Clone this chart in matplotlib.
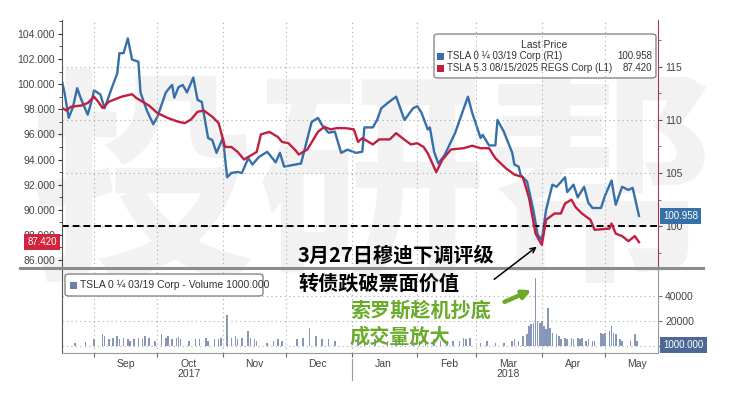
import matplotlib
matplotlib.use("Agg")
from datetime import datetime

import matplotlib.dates as mdates
import matplotlib.pyplot as plt
import matplotlib.transforms as mtransforms
import pandas as pd
from matplotlib.lines import Line2D
from matplotlib.patches import FancyArrowPatch, FancyBboxPatch, Rectangle
from matplotlib.ticker import FixedLocator, FuncFormatter, MultipleLocator

# TSLA 0 1/4 03/19 convertible (right axis, blue)
blue_dates = [
    "2017-08-17", "2017-08-18", "2017-08-20", "2017-08-22", "2017-08-24", "2017-08-26",
    "2017-08-29", "2017-08-31", "2017-09-01", "2017-09-04", "2017-09-06", "2017-09-09",
    "2017-09-12", "2017-09-13", "2017-09-15", "2017-09-17", "2017-09-19", "2017-09-22",
    "2017-09-23", "2017-09-26", "2017-09-29", "2017-10-01", "2017-10-05", "2017-10-07",
    "2017-10-08", "2017-10-09", "2017-10-11", "2017-10-13", "2017-10-15", "2017-10-18",
    "2017-10-20", "2017-10-22", "2017-10-25", "2017-10-27", "2017-10-29", "2017-11-01",
    "2017-11-03", "2017-11-05", "2017-11-08", "2017-11-10", "2017-11-13", "2017-11-15",
    "2017-11-18", "2017-11-22", "2017-11-26", "2017-11-28", "2017-11-30", "2017-12-08",
    "2017-12-13", "2017-12-16", "2017-12-18", "2017-12-21", "2017-12-24", "2017-12-27",
    "2017-12-30", "2018-01-03", "2018-01-06", "2018-01-07", "2018-01-11", "2018-01-13",
    "2018-01-15", "2018-01-18", "2018-01-22", "2018-01-24", "2018-01-26", "2018-01-30",
    "2018-02-01", "2018-02-03", "2018-02-06", "2018-02-07", "2018-02-09", "2018-02-11",
    "2018-02-14", "2018-02-19", "2018-02-22", "2018-02-25", "2018-02-27", "2018-03-01",
    "2018-03-03", "2018-03-04", "2018-03-07", "2018-03-10", "2018-03-11", "2018-03-14",
    "2018-03-18", "2018-03-19", "2018-03-21", "2018-03-22", "2018-03-25", "2018-03-28",
    "2018-03-30", "2018-04-01", "2018-04-03", "2018-04-06", "2018-04-08", "2018-04-12",
    "2018-04-13", "2018-04-16", "2018-04-18", "2018-04-21", "2018-04-23", "2018-04-25",
    "2018-04-29", "2018-05-01", "2018-05-04", "2018-05-06", "2018-05-09", "2018-05-12",
    "2018-05-14", "2018-05-17",
]
blue_px = [
    113.5, 112.6, 110.2, 111.2, 113.0, 111.9,
    110.5, 111.9, 112.8, 112.4, 111.1, 112.8,
    114.4, 116.3, 116.3, 117.7, 115.7, 115.5,
    112.6, 110.9, 109.6, 110.3, 112.6, 113.1,
    113.3, 112.1, 113.1, 113.3, 112.6, 114.0,
    111.9, 111.7, 108.3, 108.1, 106.9, 108.3,
    104.6, 105.0, 105.1, 105.0, 106.4, 105.8,
    106.5, 107.0, 106.0, 106.9, 105.6, 105.9,
    109.8, 110.2, 109.5, 108.8, 108.9, 106.9,
    107.2, 106.9, 107.0, 109.3, 109.3, 110.0,
    111.1, 111.6, 112.2, 111.1, 110.0, 111.1,
    111.3, 110.7, 109.1, 109.3, 107.0, 105.9,
    106.7, 108.8, 110.5, 112.2, 110.7, 109.5,
    108.3, 108.6, 107.6, 107.6, 110.0, 108.9,
    106.9, 105.8, 105.6, 104.8, 104.2, 101.5,
    99.2, 98.7, 101.5, 103.9, 103.7, 104.6,
    103.2, 103.9, 102.7, 103.7, 102.2, 101.7,
    101.7, 102.9, 104.3, 102.0, 103.7, 103.4,
    103.6, 100.958,
]

# TSLA 5.3 08/15/2025 REGS (left axis, red)
red_dates = [
    "2017-08-17", "2017-08-19", "2017-08-21", "2017-08-26", "2017-08-29", "2017-09-01",
    "2017-09-03", "2017-09-05", "2017-09-08", "2017-09-11", "2017-09-14", "2017-09-19",
    "2017-09-21", "2017-09-24", "2017-09-27", "2017-10-01", "2017-10-06", "2017-10-11",
    "2017-10-14", "2017-10-17", "2017-10-20", "2017-10-23", "2017-10-27", "2017-10-30",
    "2017-11-02", "2017-11-05", "2017-11-08", "2017-11-11", "2017-11-15", "2017-11-17",
    "2017-11-19", "2017-11-23", "2017-11-27", "2017-11-29", "2017-12-02", "2017-12-05",
    "2017-12-07", "2017-12-11", "2017-12-16", "2017-12-19", "2017-12-22", "2017-12-25",
    "2017-12-29", "2018-01-02", "2018-01-04", "2018-01-06", "2018-01-11", "2018-01-14",
    "2018-01-19", "2018-01-22", "2018-01-25", "2018-01-29", "2018-02-01", "2018-02-04",
    "2018-02-06", "2018-02-10", "2018-02-13", "2018-02-17", "2018-02-23", "2018-02-27",
    "2018-03-03", "2018-03-07", "2018-03-10", "2018-03-15", "2018-03-19", "2018-03-23",
    "2018-03-26", "2018-03-29", "2018-04-01", "2018-04-03", "2018-04-07", "2018-04-10",
    "2018-04-12", "2018-04-15", "2018-04-17", "2018-04-20", "2018-04-24", "2018-04-26",
    "2018-05-03", "2018-05-04", "2018-05-06", "2018-05-09", "2018-05-12", "2018-05-15",
    "2018-05-17",
]
red_px = [
    98.1, 97.9, 98.2, 98.3, 98.5, 99.0,
    98.6, 98.1, 98.6, 98.8, 99.0, 99.2,
    98.9, 98.6, 98.3, 97.7, 97.3, 97.0,
    96.9, 97.2, 97.8, 97.9, 97.4, 96.9,
    95.0, 95.0, 94.6, 94.0, 94.4, 94.6,
    96.0, 96.2, 95.8, 95.4, 95.3, 94.8,
    94.4, 94.8, 96.2, 96.6, 96.4, 96.5,
    96.5, 96.4, 95.4, 95.7, 95.2, 95.6,
    95.6, 96.1, 95.7, 95.2, 95.3, 95.0,
    94.5, 93.0, 94.0, 94.8, 94.9, 95.1,
    94.9, 94.9, 94.1, 93.3, 92.8, 92.6,
    90.9, 88.1, 87.2, 89.2, 89.7, 89.7,
    90.5, 90.8, 90.2, 89.7, 89.2, 88.4,
    88.5, 88.9, 88.1, 87.9, 87.5, 87.9,
    87.42,
]

# convertible volume
vol_dates = [
    "2017-08-23", "2017-08-28", "2017-09-01", "2017-09-05", "2017-09-06", "2017-09-08",
    "2017-09-10", "2017-09-12", "2017-09-13", "2017-09-15", "2017-09-17", "2017-09-18",
    "2017-09-20", "2017-09-22", "2017-09-24", "2017-09-25", "2017-09-27", "2017-09-30",
    "2017-10-03", "2017-10-05", "2017-10-06", "2017-10-08", "2017-10-10", "2017-10-11",
    "2017-10-12", "2017-10-16", "2017-10-19", "2017-10-21", "2017-10-24", "2017-10-25",
    "2017-10-28", "2017-10-30", "2017-10-31", "2017-11-03", "2017-11-05", "2017-11-07",
    "2017-11-08", "2017-11-10", "2017-11-13", "2017-11-14", "2017-11-16", "2017-11-17",
    "2017-11-22", "2017-11-25", "2017-11-27", "2017-11-29", "2017-12-06", "2017-12-09",
    "2017-12-12", "2017-12-15", "2017-12-18", "2017-12-21", "2017-12-24", "2018-01-04",
    "2018-01-07", "2018-01-12", "2018-01-18", "2018-01-22", "2018-01-25", "2018-01-30",
    "2018-02-02", "2018-02-05", "2018-02-09", "2018-02-12", "2018-02-15", "2018-02-18",
    "2018-02-21", "2018-02-23", "2018-02-24", "2018-02-26", "2018-03-03", "2018-03-06",
    "2018-03-10", "2018-03-14", "2018-03-18", "2018-03-19", "2018-03-21", "2018-03-23",
    "2018-03-25", "2018-03-26", "2018-03-27", "2018-03-28", "2018-03-29", "2018-03-30",
    "2018-03-31", "2018-04-01", "2018-04-02", "2018-04-03", "2018-04-04", "2018-04-05",
    "2018-04-06", "2018-04-08", "2018-04-09", "2018-04-10", "2018-04-12", "2018-04-13",
    "2018-04-15", "2018-04-16", "2018-04-18", "2018-04-19", "2018-04-20", "2018-04-22",
    "2018-04-23", "2018-04-25", "2018-04-26", "2018-04-29", "2018-04-30", "2018-05-01",
    "2018-05-03", "2018-05-04", "2018-05-05", "2018-05-06", "2018-05-08", "2018-05-09",
    "2018-05-13", "2018-05-15", "2018-05-16",
]
vol = [
    2700, 3500, 5300, 9300, 8000, 5300,
    6700, 8000, 5300, 6700, 5500, 4000,
    5300, 6700, 5300, 8000, 6700, 4000,
    9300, 6700, 8000, 5300, 6700, 7200,
    5300, 4000, 5300, 5300, 6700, 4000,
    5300, 5300, 6700, 24500, 6700, 8000,
    5900, 6700, 12000, 6700, 5300, 4000,
    2700, 4000, 5300, 4000, 5300, 6700,
    14700, 8000, 5300, 5300, 4000, 5300,
    4000, 5300, 4000, 4500, 5300, 3500,
    4000, 6700, 5300, 4000, 4000, 4000,
    4000, 6700, 5300, 6700, 2700, 4000,
    2700, 2700, 4000, 5300, 4000, 8000,
    9300, 16000, 17300, 18700, 54700, 20000,
    18700, 20000, 16000, 13300, 30700, 14700,
    10700, 9300, 8000, 5300, 6700, 5300,
    6700, 5300, 6700, 5300, 6700, 4000,
    5300, 4000, 4000, 10700, 9300, 10700,
    12000, 16000, 10700, 9300, 5300, 4000,
    4000, 9300, 4000,
]

BLUE = "#3570a8"
RED = "#c01f41"
VOL = "#8797b8"
GREEN = "#6aab2b"
CJK = ["Noto Sans CJK SC", "DejaVu Sans"]
W, H = 734, 397


def fx(px):
    return px / W


def fy(py):
    return 1 - py / H


def main() -> None:
    plt.rcParams["font.family"] = ["Liberation Sans", "DejaVu Sans"]
    plt.rcParams["font.size"] = 7

    fig = plt.figure(figsize=(7.34, 3.97), dpi=100)
    # faint watermark behind everything
    fig.text(fx(372), fy(196), "投研帮", fontsize=165, color="#f2f2f2", family=CJK,
             weight="bold", ha="center", va="center", zorder=-1)

    ax = fig.add_axes([fx(62), fy(268), fx(658) - fx(62), (268 - 20) / H])
    axr = ax.twinx()
    axv = fig.add_axes([fx(62), fy(353), fx(658) - fx(62), (353 - 268) / H], sharex=ax)
    for a in (ax, axr, axv):
        a.patch.set_visible(False)
    ax.set_zorder(axr.get_zorder() + 1)

    axr.plot(pd.to_datetime(blue_dates), blue_px, color=BLUE, lw=1.7)
    ax.plot(pd.to_datetime(red_dates), red_px, color=RED, lw=1.7)
    axv.bar(pd.to_datetime(vol_dates), vol, width=0.75, color=VOL)
    axr.axhline(100, color="black", lw=1.4, ls=(0, (3.5, 2)))

    ax.set_xlim(datetime(2017, 8, 16, 20), datetime(2018, 5, 26))
    ax.set_ylim(85.36, 105.11)
    axr.set_ylim(96.04, 119.43)
    axv.set_ylim(-5600, 62400)

    # x axis: tick marks on month starts, labels mid-month
    ax.xaxis.set_major_locator(mdates.MonthLocator(bymonthday=1))
    ax.xaxis.set_minor_locator(mdates.MonthLocator(bymonthday=16))
    ax.xaxis.set_major_formatter(FuncFormatter(lambda v, p: ""))
    ax.xaxis.set_minor_formatter(mdates.DateFormatter("%b"))
    ax.tick_params(axis="x", which="both", bottom=False, labelbottom=False)
    axv.tick_params(axis="x", which="major", length=3, color="#666", direction="out")
    axv.tick_params(axis="x", which="minor", length=0, pad=4, labelsize=7.5, labelcolor="#444")

    grid_kw = dict(color="#a8a8a8", ls=(0, (1, 3)), lw=0.8)
    ax.grid(axis="x", which="major", **grid_kw)
    axv.grid(axis="x", which="major", **grid_kw)

    # left axis (red bond)
    ax.yaxis.set_major_locator(MultipleLocator(2))
    ax.yaxis.set_minor_locator(MultipleLocator(1))
    ax.yaxis.set_major_formatter(FuncFormatter(lambda v, p: f"{v:.3f}"))
    ax.tick_params(axis="y", which="major", length=3, color="#333", labelsize=7.5, labelcolor="#444", pad=2)
    ax.tick_params(axis="y", which="minor", length=2, color="#333")

    # right axis (blue convertible)
    axr.yaxis.set_major_locator(MultipleLocator(5))
    axr.yaxis.set_minor_locator(MultipleLocator(2.5))
    axr.yaxis.set_major_formatter(FuncFormatter(lambda v, p: f"{v:.0f}"))
    axr.tick_params(axis="y", which="major", length=3, color="#a33a52", labelsize=7.5, labelcolor="#444", pad=2)
    axr.tick_params(axis="y", which="minor", length=2, color="#a33a52")
    axr.grid(axis="y", which="major", **grid_kw)

    # volume axis
    axv.yaxis.tick_right()
    axv.yaxis.set_major_locator(FixedLocator([0, 20000, 40000]))
    axv.yaxis.set_major_formatter(FuncFormatter(lambda v, p: "" if v == 0 else f"{v:.0f}"))
    axv.tick_params(axis="y", length=3, color="#777", labelsize=7.5, labelcolor="#444", pad=2)
    axv.grid(axis="y", which="major", **grid_kw)

    for s in ("top", "bottom", "right"):
        ax.spines[s].set_visible(False)
    ax.spines["left"].set_color("#555")
    for s in ("top", "bottom", "left"):
        axr.spines[s].set_visible(False)
    axr.spines["right"].set_color("#a33a52")
    axv.spines["top"].set_visible(False)
    axv.spines["left"].set_color("#555")
    axv.spines["right"].set_color("#999")
    axv.spines["bottom"].set_color("#999")

    # years under the month labels
    bt = mtransforms.blended_transform_factory(axv.transData, axv.transAxes)
    axv.text(datetime(2017, 10, 16), -0.25, "2017", transform=bt, ha="center", va="center",
             fontsize=7.5, color="#444")
    axv.text(datetime(2018, 3, 16), -0.25, "2018", transform=bt, ha="center", va="center",
             fontsize=7.5, color="#444")
    axv.plot([datetime(2018, 1, 1)] * 2, [-0.07, -0.32], transform=bt, clip_on=False,
             color="#999", lw=0.8)

    # panel separator
    fig.add_artist(Line2D([fx(20), fx(703)], [fy(268), fy(268)], color="#8c8c8c", lw=2.2))

    # last-value tags
    tl = mtransforms.blended_transform_factory(ax.transAxes, ax.transData)
    ax.text(-0.009, red_px[-1], f"{red_px[-1]:.3f}", transform=tl, ha="right", va="center",
            fontsize=7, color="white", clip_on=False, zorder=10,
            bbox=dict(boxstyle="square,pad=0.3", fc="#d0243f", ec="none"))
    tr = mtransforms.blended_transform_factory(axr.transAxes, axr.transData)
    axr.text(1.009, blue_px[-1], f"{blue_px[-1]:.3f}", transform=tr, ha="left", va="center",
             fontsize=7, color="white", clip_on=False, zorder=10,
             bbox=dict(boxstyle="square,pad=0.3", fc=BLUE, ec="none"))
    tv = mtransforms.blended_transform_factory(axv.transAxes, axv.transData)
    axv.text(1.009, 1000, "1000.000", transform=tv, ha="left", va="center",
             fontsize=7, color="white", clip_on=False, zorder=10,
             bbox=dict(boxstyle="square,pad=0.3", fc="#4d6796", ec="none"))

    # price legend
    fig.add_artist(FancyBboxPatch((fx(434), fy(78)), fx(656) - fx(434), (78 - 34) / H,
                                  boxstyle="round,pad=0,rounding_size=0.006", fc="white",
                                  ec="#888", lw=1, transform=fig.transFigure))
    fig.text(fx(544), fy(45), "Last Price", ha="center", va="center", fontsize=7.5, color="#333")
    rows = [("TSLA 0 ¼ 03/19 Corp (R1)", blue_px[-1], BLUE, 56),
            ("TSLA 5.3 08/15/2025 REGS Corp (L1)", red_px[-1], RED, 68)]
    for label, last, col, yy in rows:
        fig.add_artist(Rectangle((fx(437), fy(yy + 3.5)), 7 / W, 7 / H, fc=col, ec="none",
                                 transform=fig.transFigure))
        fig.text(fx(447), fy(yy), label, va="center", fontsize=7, color="#333")
        fig.text(fx(652), fy(yy), f"{last:.3f}", ha="right", va="center", fontsize=7, color="#333")

    # volume legend
    fig.add_artist(FancyBboxPatch((fx(65), fy(296)), fx(263) - fx(65), (296 - 274) / H,
                                  boxstyle="round,pad=0,rounding_size=0.006", fc="white",
                                  ec="#888", lw=1, transform=fig.transFigure))
    fig.add_artist(Rectangle((fx(70), fy(289)), 7 / W, 7 / H, fc="#6f80a8", ec="none",
                             transform=fig.transFigure))
    fig.text(fx(80), fy(285), "TSLA 0 ¼ 03/19 Corp - Volume 1000.000", va="center",
             fontsize=7.5, color="#333")

    # annotations
    fig.text(fx(298), fy(255), "3月27日穆迪下调评级", family=CJK, weight="bold",
             fontsize=14.5, va="center", color="black", zorder=20)
    fig.text(fx(298), fy(283), "转债跌破票面价值", family=CJK, weight="bold",
             fontsize=14.5, va="center", color="black", zorder=20)
    fig.text(fx(350), fy(310), "索罗斯趁机抄底", family=CJK, weight="bold",
             fontsize=14.5, va="center", color=GREEN, zorder=20)
    fig.text(fx(350), fy(336), "成交量放大", family=CJK, weight="bold",
             fontsize=14.5, va="center", color=GREEN, zorder=20)
    fig.add_artist(FancyArrowPatch((fx(492), fy(281)), (fx(539), fy(245)),
                                   transform=fig.transFigure, arrowstyle="->",
                                   mutation_scale=9, lw=1.1, color="black", zorder=20))
    fig.add_artist(FancyArrowPatch((fx(502), fy(303)), (fx(534), fy(289)),
                                   transform=fig.transFigure, arrowstyle="-|>",
                                   mutation_scale=12, lw=3.2, color=GREEN, zorder=20))

    fig.savefig("out.png", dpi=100)
    plt.close(fig)


if __name__ == "__main__":
    main()
